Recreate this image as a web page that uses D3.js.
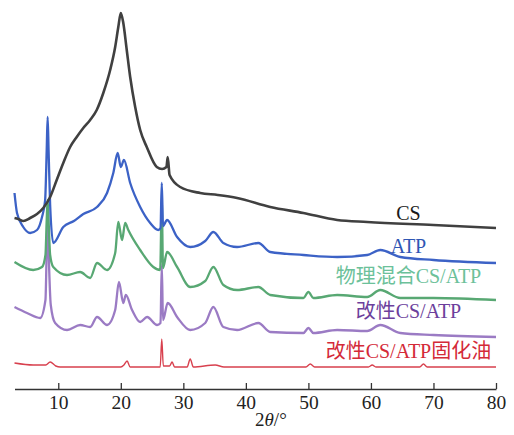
<!DOCTYPE html>
<html>
<head>
<meta charset="utf-8">
<script src="https://cdn.jsdelivr.net/npm/d3@7"></script>
<style>
  body { margin: 0; background: #fff; }
  svg { display: block; }
</style>
</head>
<body>
<svg id="chart"></svg>
<script>
// 2theta (deg) / intensity (a.u., stacked)
let csData = [
    [3.0, 171], [3.6, 170], [4.4, 168], [5.5, 171], [6.6, 175], [7.6, 181],
    [8.7, 192], [9.75, 209], [10.8, 226], [11.9, 242], [12.95, 252], [14.0, 261],
    [15.1, 269], [16.15, 279], [17.2, 296], [18.3, 319], [19.1, 342], [19.6, 362],
    [20.0, 376], [20.4, 366], [20.95, 339], [21.5, 312], [22.3, 282], [23.1, 259],
    [24.15, 242], [25.75, 222], [26.6, 220], [27.3, 222], [27.5, 232], [27.8, 214],
    [29.5, 202], [32.7, 196], [35.5, 194], [38.6, 191], [43.9, 182], [49.2, 176],
    [54.6, 169], [59.4, 167], [70.0, 164], [80.0, 161]
]
let atpData = [
    [3.0, 196], [3.4, 176], [4.4, 162], [5.5, 156], [6.6, 159], [7.4, 172],
    [7.9, 189], [8.15, 239], [8.3, 272], [8.45, 239], [8.7, 184], [9.2, 146],
    [10.8, 162], [12.5, 168], [14.0, 175], [16.2, 182], [17.8, 196], [18.8, 216],
    [19.5, 236], [20.0, 222], [20.5, 229], [21.5, 206], [23.1, 182], [24.7, 166],
    [26.0, 159], [26.35, 161], [26.55, 206], [26.75, 163], [27.4, 169], [29.0, 152],
    [31.1, 142], [33.5, 148], [34.8, 157], [36.4, 146], [38.6, 142], [42.0, 146],
    [43.9, 137], [49.2, 134], [54.6, 132], [59.4, 134], [61.5, 139], [64.7, 132],
    [70.0, 129], [80.0, 126]
]
let mixData = [
    [3.0, 127], [6.0, 119], [7.4, 122], [7.95, 134], [8.15, 169], [8.3, 189],
    [8.45, 169], [8.7, 134], [9.2, 122], [11.4, 114], [13.5, 117], [15.1, 111],
    [16.2, 126], [17.8, 119], [19.1, 136], [19.6, 167], [20.2, 149], [20.7, 166],
    [21.2, 159], [23.1, 139], [25.2, 122], [26.3, 119], [26.55, 189], [26.75, 121],
    [27.4, 137], [29.0, 122], [31.1, 102], [33.5, 108], [34.8, 122], [36.4, 104],
    [38.6, 99], [42.0, 102], [43.9, 94], [49.2, 91], [50.0, 97], [50.8, 91],
    [54.6, 94], [59.4, 92], [61.5, 99], [64.7, 91], [70.0, 91], [80.0, 89]
]
let modData = [
    [3.0, 82], [5.0, 76], [7.1, 71], [7.95, 89], [8.15, 139], [8.3, 174],
    [8.45, 139], [8.8, 84], [9.5, 66], [11.4, 59], [13.5, 64], [15.1, 62],
    [16.2, 72], [17.8, 64], [19.1, 79], [19.7, 107], [20.4, 86], [20.8, 94],
    [21.8, 79], [23.1, 67], [24.2, 72], [25.8, 64], [26.35, 66], [26.55, 124],
    [26.75, 69], [27.5, 86], [29.0, 72], [31.1, 59], [33.5, 66], [34.8, 82],
    [36.4, 62], [38.6, 59], [42.0, 66], [43.9, 57], [49.2, 56], [50.0, 61],
    [50.8, 56], [54.6, 59], [59.4, 58], [61.5, 64], [64.7, 56], [70.0, 54],
    [80.0, 52]
]
let oilData = [
    [3.0, 26], [6.0, 24], [8.0, 24], [8.7, 27], [9.6, 23], [10.3, 22], [20.0, 22],
    [20.5, 24], [21.0, 28], [21.5, 22], [26.3, 22], [26.55, 50], [26.8, 23],
    [27.8, 23], [28.2, 27], [28.6, 22], [30.6, 22], [31.1, 30], [31.6, 22],
    [35.1, 24], [36.5, 22], [49.6, 22], [50.3, 25], [51.0, 22], [59.6, 22],
    [60.2, 24], [60.8, 22], [67.8, 22], [68.4, 25], [69.0, 22], [80.0, 22]
]

let seriesNames = ['改性CS/ATP固化油', '改性CS/ATP', '物理混合CS/ATP', 'ATP', 'CS']
let seriesData = [oilData, modData, mixData, atpData, csData]
let lineColors = ['#d8404e', '#9b7bc4', '#58a873', '#3c62c6', '#404040']
let labelColors = ['#d42a38', '#6c3f9c', '#6cc19a', '#2f56b4', '#1a1a1a']
let lineWidths = [1.4, 2.3, 2.3, 2.3, 2.6]
// label anchor (2theta, intensity) for each series
let labelX = [66, 66, 66, 66, 66]
let labelY = [31, 71, 106, 136, 169]

let xTicks = [10, 20, 30, 40, 50, 60, 70, 80]

let width = 514
let height = 435
let serif = '"Liberation Serif", "Times New Roman", Times, "Noto Sans CJK SC", serif'

let svg = d3.select('#chart')
    .attr('width', width)
    .attr('height', height)

let x = d3.scaleLinear().domain([3, 80]).range([14.5, 496])
let y = d3.scaleLinear().domain([0, 380]).range([389, 9])

let line = d3.line()
    .x(d => x(d[0]))
    .y(d => y(d[1]))
    .curve(d3.curveMonotoneX)

svg.selectAll('path.trace')
    .data(seriesData)
    .enter().append('path')
    .attr('class', 'trace')
    .attr('d', d => line(d))
    .attr('fill', 'none')
    .attr('stroke', (d, i) => lineColors[i])
    .attr('stroke-width', (d, i) => lineWidths[i])
    .attr('stroke-linejoin', 'round')

svg.selectAll('text.label')
    .data(seriesNames)
    .enter().append('text')
    .attr('class', 'label')
    .attr('x', (d, i) => x(labelX[i]))
    .attr('y', (d, i) => y(labelY[i]))
    .attr('text-anchor', 'middle')
    .style('font-family', serif)
    .style('font-size', '20px')
    .attr('fill', (d, i) => labelColors[i])
    .text(d => d)

let axis = svg.append('g')
    .attr('transform', 'translate(0,' + y(0) + ')')
    .call(d3.axisBottom(x)
        .tickValues(xTicks)
        .tickSizeInner(-6)
        .tickSizeOuter(0)
        .tickPadding(6))

axis.select('.domain').attr('stroke', '#333').attr('stroke-width', 1.3)
axis.selectAll('.tick line').attr('stroke', '#333').attr('stroke-width', 1.3)
axis.selectAll('.tick text')
    .style('font-family', serif)
    .style('font-size', '19.5px')
    .attr('fill', '#222')

let xLabel = svg.append('text')
    .attr('x', x(44))
    .attr('y', 426)
    .attr('text-anchor', 'middle')
    .style('font-family', serif)
    .style('font-size', '19px')
    .attr('fill', '#222')
xLabel.append('tspan').text('2')
xLabel.append('tspan').attr('font-style', 'italic').text('θ')
xLabel.append('tspan').text('/°')
</script>
</body>
</html>
